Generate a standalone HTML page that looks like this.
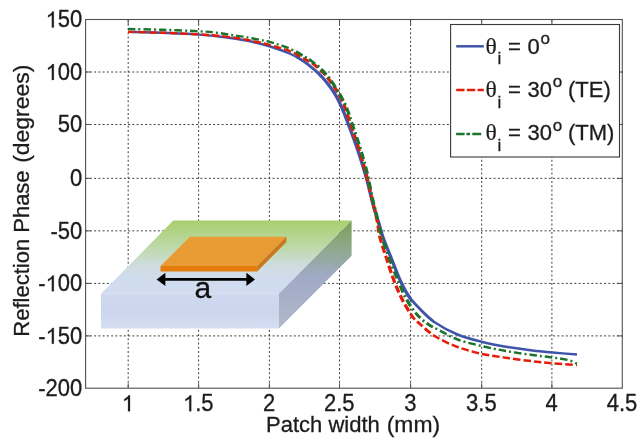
<!DOCTYPE html>
<html><head><meta charset="utf-8"><title>Reflection Phase</title>
<style>
html,body{margin:0;padding:0;background:#fff;}
body{width:640px;height:442px;overflow:hidden;}
svg{display:block;font-family:"Liberation Sans",sans-serif;will-change:transform;}
</style></head><body>
<svg width="640" height="442" viewBox="0 0 640 442">
<defs>
<linearGradient id="gtop" x1="0" y1="0" x2="0" y2="1"><stop offset="0" stop-color="#a7cf6c"/><stop offset="0.38" stop-color="#bfd9ac"/><stop offset="0.62" stop-color="#cfdde0"/><stop offset="0.8" stop-color="#d0dcee"/><stop offset="1" stop-color="#d1dcf1"/></linearGradient>
<linearGradient id="gfront" x1="0" y1="0" x2="0" y2="1"><stop offset="0" stop-color="#cfdaf0"/><stop offset="0.5" stop-color="#cbd6ee"/><stop offset="1" stop-color="#d4def2"/></linearGradient>
<linearGradient id="gside" x1="0" y1="0" x2="0" y2="1"><stop offset="0" stop-color="#78a055"/><stop offset="0.25" stop-color="#8fa88a"/><stop offset="0.52" stop-color="#a0aac6"/><stop offset="1" stop-color="#b0b8c9"/></linearGradient>
</defs>
<rect width="640" height="442" fill="#fff"/>
<g stroke="#2a2a2a" stroke-width="0.9" stroke-dasharray="2 2.25" fill="none"><line x1="128.20" y1="19.50" x2="128.20" y2="388.20"/><line x1="198.60" y1="19.50" x2="198.60" y2="388.20"/><line x1="269.40" y1="19.50" x2="269.40" y2="388.20"/><line x1="339.50" y1="19.50" x2="339.50" y2="388.20"/><line x1="410.60" y1="19.50" x2="410.60" y2="388.20"/><line x1="481.70" y1="19.50" x2="481.70" y2="388.20"/><line x1="551.90" y1="19.50" x2="551.90" y2="388.20"/><line x1="85.60" y1="72.00" x2="622.30" y2="72.00"/><line x1="85.60" y1="124.50" x2="622.30" y2="124.50"/><line x1="85.60" y1="178.35" x2="622.30" y2="178.35"/><line x1="85.60" y1="230.85" x2="622.30" y2="230.85"/><line x1="85.60" y1="283.40" x2="622.30" y2="283.40"/><line x1="85.60" y1="335.90" x2="622.30" y2="335.90"/></g>
<g stroke="#505050" stroke-width="1"><line x1="128.20" y1="388.20" x2="128.20" y2="383.20"/><line x1="128.20" y1="19.50" x2="128.20" y2="24.50"/><line x1="198.60" y1="388.20" x2="198.60" y2="383.20"/><line x1="198.60" y1="19.50" x2="198.60" y2="24.50"/><line x1="269.40" y1="388.20" x2="269.40" y2="383.20"/><line x1="269.40" y1="19.50" x2="269.40" y2="24.50"/><line x1="339.50" y1="388.20" x2="339.50" y2="383.20"/><line x1="339.50" y1="19.50" x2="339.50" y2="24.50"/><line x1="410.60" y1="388.20" x2="410.60" y2="383.20"/><line x1="410.60" y1="19.50" x2="410.60" y2="24.50"/><line x1="481.70" y1="388.20" x2="481.70" y2="383.20"/><line x1="481.70" y1="19.50" x2="481.70" y2="24.50"/><line x1="551.90" y1="388.20" x2="551.90" y2="383.20"/><line x1="551.90" y1="19.50" x2="551.90" y2="24.50"/><line x1="85.60" y1="72.00" x2="90.60" y2="72.00"/><line x1="622.30" y1="72.00" x2="617.30" y2="72.00"/><line x1="85.60" y1="124.50" x2="90.60" y2="124.50"/><line x1="622.30" y1="124.50" x2="617.30" y2="124.50"/><line x1="85.60" y1="178.35" x2="90.60" y2="178.35"/><line x1="622.30" y1="178.35" x2="617.30" y2="178.35"/><line x1="85.60" y1="230.85" x2="90.60" y2="230.85"/><line x1="622.30" y1="230.85" x2="617.30" y2="230.85"/><line x1="85.60" y1="283.40" x2="90.60" y2="283.40"/><line x1="622.30" y1="283.40" x2="617.30" y2="283.40"/><line x1="85.60" y1="335.90" x2="90.60" y2="335.90"/><line x1="622.30" y1="335.90" x2="617.30" y2="335.90"/></g>
<g id="inset">
<polygon points="101,293.8 173.3,220.6 351.6,220.6 278.8,293.8" fill="url(#gtop)"/>
<polygon points="101,293.8 278.8,293.8 278.8,328.5 101,328.5" fill="url(#gfront)"/>
<polygon points="278.8,293.8 351.6,220.6 351.6,255.7 278.8,328.5" fill="url(#gside)"/>
<polygon points="160.5,266 190,236.8 286.4,236.8 257.2,266" fill="#ea9c34"/>
<polygon points="160.5,266 257.2,266 257.2,271.4 160.5,271.4" fill="#e47c0a"/>
<polygon points="257.2,266 286.4,236.8 286.4,242.1 257.2,271.4" fill="#c8781e"/>
<line x1="163" y1="279.4" x2="248" y2="279.4" stroke="#000" stroke-width="2.8"/>
<polygon points="156.6,279.4 165.4,272.8 165.4,286" fill="#000"/>
<polygon points="255,279.4 246.4,272.8 246.4,286" fill="#000"/>
<text x="202.8" y="297.6" font-size="30" text-anchor="middle" fill="#111" stroke="#111" stroke-width="0.3">a</text>
</g>
<clipPath id="cflat"><rect x="0" y="0" width="296" height="442"/><rect x="434" y="0" width="206" height="442"/></clipPath>
<clipPath id="cmid"><rect x="296" y="0" width="22" height="442"/><rect x="412" y="0" width="22" height="442"/></clipPath>
<clipPath id="csteep"><rect x="318" y="0" width="94" height="442"/></clipPath>
<g fill="none" stroke-width="2.45" stroke-linejoin="round" clip-path="url(#cflat)"><path d="M128.00,31.90 C133.83,32.05 151.22,32.35 163.00,32.80 C174.78,33.25 188.37,33.85 198.70,34.60 C209.03,35.35 216.87,36.27 225.00,37.30 C233.13,38.33 242.08,39.83 247.50,40.80 C252.92,41.77 253.85,42.19 257.50,43.10 C261.15,44.01 263.98,44.48 269.40,46.25 C274.82,48.02 284.48,51.36 290.00,53.75 C295.52,56.14 299.27,58.62 302.50,60.60 C305.73,62.58 307.00,63.72 309.40,65.60 C311.80,67.48 314.72,69.92 316.90,71.90 C319.08,73.88 320.63,75.45 322.50,77.50 C324.37,79.55 326.33,81.95 328.10,84.20 C329.87,86.45 331.58,88.70 333.10,91.00 C334.62,93.30 335.77,95.28 337.20,98.00 C338.63,100.72 340.40,104.42 341.70,107.30 C343.00,110.18 343.87,112.42 345.00,115.30 C346.13,118.18 346.45,119.02 348.50,124.60 C350.55,130.17 354.34,139.93 357.30,148.75 C360.26,157.57 363.72,168.54 366.25,177.50 C368.78,186.46 370.46,195.08 372.50,202.50 C374.54,209.92 376.73,216.17 378.50,222.00 C380.27,227.83 381.02,231.58 383.10,237.50 C385.18,243.42 388.18,250.42 391.00,257.50 C393.82,264.58 397.04,273.54 400.00,280.00 C402.96,286.46 405.42,291.42 408.75,296.25 C412.08,301.08 415.62,304.62 420.00,309.00 C424.38,313.38 428.75,318.25 435.00,322.50 C441.25,326.75 449.58,331.25 457.50,334.50 C465.42,337.75 474.17,339.92 482.50,342.00 C490.83,344.08 499.17,345.58 507.50,347.00 C515.83,348.42 525.00,349.58 532.50,350.50 C540.00,351.42 545.08,351.83 552.50,352.50 C559.92,353.17 572.92,354.17 577.00,354.50" stroke="#3e54a8"/><path d="M128.00,31.90 C133.83,32.05 151.22,32.38 163.00,32.80 C174.78,33.22 189.20,33.87 198.70,34.40 C208.20,34.93 213.12,35.32 220.00,36.00 C226.88,36.68 234.58,37.67 240.00,38.50 C245.42,39.33 248.33,40.12 252.50,41.00 C256.67,41.88 262.18,43.08 265.00,43.75 C267.82,44.42 265.23,43.75 269.40,45.00 C273.57,46.25 284.07,48.88 290.00,51.25 C295.93,53.62 301.15,57.12 305.00,59.20 C308.85,61.28 309.98,61.43 313.10,63.75 C316.23,66.07 321.14,70.52 323.75,73.10 C326.36,75.67 326.98,76.90 328.75,79.20 C330.52,81.50 332.79,84.47 334.40,86.90 C336.01,89.33 337.05,91.37 338.40,93.80 C339.75,96.23 341.40,99.22 342.50,101.50 C343.60,103.78 343.72,103.92 345.00,107.50 C346.28,111.08 347.90,116.12 350.20,123.00 C352.50,129.88 356.10,140.08 358.80,148.75 C361.50,157.42 364.20,166.62 366.40,175.00 C368.60,183.38 370.23,191.50 372.00,199.00 C373.77,206.50 375.67,213.58 377.00,220.00 C378.33,226.42 378.46,231.25 380.00,237.50 C381.54,243.75 383.96,250.42 386.25,257.50 C388.54,264.58 391.04,272.92 393.75,280.00 C396.46,287.08 399.38,293.92 402.50,300.00 C405.62,306.08 409.58,312.50 412.50,316.50 C415.42,320.50 416.25,320.71 420.00,324.00 C423.75,327.29 428.75,332.42 435.00,336.25 C441.25,340.08 449.58,344.04 457.50,347.00 C465.42,349.96 474.17,352.17 482.50,354.00 C490.83,355.83 499.17,356.79 507.50,358.00 C515.83,359.21 525.00,360.38 532.50,361.25 C540.00,362.12 545.08,362.62 552.50,363.25 C559.92,363.88 572.92,364.71 577.00,365.00" stroke="#e41c08" stroke-dasharray="7.5 3"/><path d="M128.00,29.00 C133.83,29.13 151.22,29.43 163.00,29.80 C174.78,30.18 190.03,30.80 198.70,31.25 C207.37,31.70 209.78,31.92 215.00,32.50 C220.22,33.08 224.79,33.96 230.00,34.75 C235.21,35.54 240.62,36.27 246.25,37.25 C251.88,38.23 259.89,39.84 263.75,40.60 C267.61,41.36 265.02,40.44 269.40,41.80 C273.77,43.16 284.07,46.23 290.00,48.75 C295.93,51.27 301.46,54.89 305.00,56.90 C308.54,58.91 308.96,59.12 311.25,60.80 C313.54,62.48 316.36,64.84 318.75,67.00 C321.14,69.16 323.41,71.27 325.60,73.75 C327.79,76.23 329.92,79.09 331.90,81.90 C333.88,84.71 336.02,88.25 337.50,90.60 C338.98,92.95 339.30,93.18 340.80,96.00 C342.30,98.82 344.63,102.92 346.50,107.50 C348.37,112.08 349.68,116.62 352.00,123.50 C354.32,130.38 357.92,140.67 360.40,148.75 C362.88,156.83 364.87,163.62 366.90,172.00 C368.93,180.38 370.80,191.00 372.60,199.00 C374.40,207.00 376.13,213.58 377.70,220.00 C379.27,226.42 380.12,231.25 382.00,237.50 C383.88,243.75 386.37,250.42 389.00,257.50 C391.63,264.58 394.93,273.12 397.80,280.00 C400.68,286.88 403.18,293.12 406.25,298.75 C409.32,304.38 412.71,309.58 416.25,313.75 C419.79,317.92 423.75,321.04 427.50,323.75 C431.25,326.46 433.75,327.38 438.75,330.00 C443.75,332.62 450.21,336.79 457.50,339.50 C464.79,342.21 474.17,344.29 482.50,346.25 C490.83,348.21 499.17,349.79 507.50,351.25 C515.83,352.71 525.00,353.96 532.50,355.00 C540.00,356.04 546.58,356.67 552.50,357.50 C558.42,358.33 563.92,358.96 568.00,360.00 C572.08,361.04 575.50,363.12 577.00,363.75" stroke="#1c742c" stroke-dasharray="7.5 3 2 3"/></g>
<g fill="none" stroke-width="2.85" stroke-linejoin="round" clip-path="url(#cmid)"><path d="M128.00,31.90 C133.83,32.05 151.22,32.35 163.00,32.80 C174.78,33.25 188.37,33.85 198.70,34.60 C209.03,35.35 216.87,36.27 225.00,37.30 C233.13,38.33 242.08,39.83 247.50,40.80 C252.92,41.77 253.85,42.19 257.50,43.10 C261.15,44.01 263.98,44.48 269.40,46.25 C274.82,48.02 284.48,51.36 290.00,53.75 C295.52,56.14 299.27,58.62 302.50,60.60 C305.73,62.58 307.00,63.72 309.40,65.60 C311.80,67.48 314.72,69.92 316.90,71.90 C319.08,73.88 320.63,75.45 322.50,77.50 C324.37,79.55 326.33,81.95 328.10,84.20 C329.87,86.45 331.58,88.70 333.10,91.00 C334.62,93.30 335.77,95.28 337.20,98.00 C338.63,100.72 340.40,104.42 341.70,107.30 C343.00,110.18 343.87,112.42 345.00,115.30 C346.13,118.18 346.45,119.02 348.50,124.60 C350.55,130.17 354.34,139.93 357.30,148.75 C360.26,157.57 363.72,168.54 366.25,177.50 C368.78,186.46 370.46,195.08 372.50,202.50 C374.54,209.92 376.73,216.17 378.50,222.00 C380.27,227.83 381.02,231.58 383.10,237.50 C385.18,243.42 388.18,250.42 391.00,257.50 C393.82,264.58 397.04,273.54 400.00,280.00 C402.96,286.46 405.42,291.42 408.75,296.25 C412.08,301.08 415.62,304.62 420.00,309.00 C424.38,313.38 428.75,318.25 435.00,322.50 C441.25,326.75 449.58,331.25 457.50,334.50 C465.42,337.75 474.17,339.92 482.50,342.00 C490.83,344.08 499.17,345.58 507.50,347.00 C515.83,348.42 525.00,349.58 532.50,350.50 C540.00,351.42 545.08,351.83 552.50,352.50 C559.92,353.17 572.92,354.17 577.00,354.50" stroke="#3e54a8"/><path d="M128.00,31.90 C133.83,32.05 151.22,32.38 163.00,32.80 C174.78,33.22 189.20,33.87 198.70,34.40 C208.20,34.93 213.12,35.32 220.00,36.00 C226.88,36.68 234.58,37.67 240.00,38.50 C245.42,39.33 248.33,40.12 252.50,41.00 C256.67,41.88 262.18,43.08 265.00,43.75 C267.82,44.42 265.23,43.75 269.40,45.00 C273.57,46.25 284.07,48.88 290.00,51.25 C295.93,53.62 301.15,57.12 305.00,59.20 C308.85,61.28 309.98,61.43 313.10,63.75 C316.23,66.07 321.14,70.52 323.75,73.10 C326.36,75.67 326.98,76.90 328.75,79.20 C330.52,81.50 332.79,84.47 334.40,86.90 C336.01,89.33 337.05,91.37 338.40,93.80 C339.75,96.23 341.40,99.22 342.50,101.50 C343.60,103.78 343.72,103.92 345.00,107.50 C346.28,111.08 347.90,116.12 350.20,123.00 C352.50,129.88 356.10,140.08 358.80,148.75 C361.50,157.42 364.20,166.62 366.40,175.00 C368.60,183.38 370.23,191.50 372.00,199.00 C373.77,206.50 375.67,213.58 377.00,220.00 C378.33,226.42 378.46,231.25 380.00,237.50 C381.54,243.75 383.96,250.42 386.25,257.50 C388.54,264.58 391.04,272.92 393.75,280.00 C396.46,287.08 399.38,293.92 402.50,300.00 C405.62,306.08 409.58,312.50 412.50,316.50 C415.42,320.50 416.25,320.71 420.00,324.00 C423.75,327.29 428.75,332.42 435.00,336.25 C441.25,340.08 449.58,344.04 457.50,347.00 C465.42,349.96 474.17,352.17 482.50,354.00 C490.83,355.83 499.17,356.79 507.50,358.00 C515.83,359.21 525.00,360.38 532.50,361.25 C540.00,362.12 545.08,362.62 552.50,363.25 C559.92,363.88 572.92,364.71 577.00,365.00" stroke="#e41c08" stroke-dasharray="7.5 3"/><path d="M128.00,29.00 C133.83,29.13 151.22,29.43 163.00,29.80 C174.78,30.18 190.03,30.80 198.70,31.25 C207.37,31.70 209.78,31.92 215.00,32.50 C220.22,33.08 224.79,33.96 230.00,34.75 C235.21,35.54 240.62,36.27 246.25,37.25 C251.88,38.23 259.89,39.84 263.75,40.60 C267.61,41.36 265.02,40.44 269.40,41.80 C273.77,43.16 284.07,46.23 290.00,48.75 C295.93,51.27 301.46,54.89 305.00,56.90 C308.54,58.91 308.96,59.12 311.25,60.80 C313.54,62.48 316.36,64.84 318.75,67.00 C321.14,69.16 323.41,71.27 325.60,73.75 C327.79,76.23 329.92,79.09 331.90,81.90 C333.88,84.71 336.02,88.25 337.50,90.60 C338.98,92.95 339.30,93.18 340.80,96.00 C342.30,98.82 344.63,102.92 346.50,107.50 C348.37,112.08 349.68,116.62 352.00,123.50 C354.32,130.38 357.92,140.67 360.40,148.75 C362.88,156.83 364.87,163.62 366.90,172.00 C368.93,180.38 370.80,191.00 372.60,199.00 C374.40,207.00 376.13,213.58 377.70,220.00 C379.27,226.42 380.12,231.25 382.00,237.50 C383.88,243.75 386.37,250.42 389.00,257.50 C391.63,264.58 394.93,273.12 397.80,280.00 C400.68,286.88 403.18,293.12 406.25,298.75 C409.32,304.38 412.71,309.58 416.25,313.75 C419.79,317.92 423.75,321.04 427.50,323.75 C431.25,326.46 433.75,327.38 438.75,330.00 C443.75,332.62 450.21,336.79 457.50,339.50 C464.79,342.21 474.17,344.29 482.50,346.25 C490.83,348.21 499.17,349.79 507.50,351.25 C515.83,352.71 525.00,353.96 532.50,355.00 C540.00,356.04 546.58,356.67 552.50,357.50 C558.42,358.33 563.92,358.96 568.00,360.00 C572.08,361.04 575.50,363.12 577.00,363.75" stroke="#1c742c" stroke-dasharray="7.5 3 2 3"/></g>
<g fill="none" stroke-width="3.25" stroke-linejoin="round" clip-path="url(#csteep)"><path d="M128.00,31.90 C133.83,32.05 151.22,32.35 163.00,32.80 C174.78,33.25 188.37,33.85 198.70,34.60 C209.03,35.35 216.87,36.27 225.00,37.30 C233.13,38.33 242.08,39.83 247.50,40.80 C252.92,41.77 253.85,42.19 257.50,43.10 C261.15,44.01 263.98,44.48 269.40,46.25 C274.82,48.02 284.48,51.36 290.00,53.75 C295.52,56.14 299.27,58.62 302.50,60.60 C305.73,62.58 307.00,63.72 309.40,65.60 C311.80,67.48 314.72,69.92 316.90,71.90 C319.08,73.88 320.63,75.45 322.50,77.50 C324.37,79.55 326.33,81.95 328.10,84.20 C329.87,86.45 331.58,88.70 333.10,91.00 C334.62,93.30 335.77,95.28 337.20,98.00 C338.63,100.72 340.40,104.42 341.70,107.30 C343.00,110.18 343.87,112.42 345.00,115.30 C346.13,118.18 346.45,119.02 348.50,124.60 C350.55,130.17 354.34,139.93 357.30,148.75 C360.26,157.57 363.72,168.54 366.25,177.50 C368.78,186.46 370.46,195.08 372.50,202.50 C374.54,209.92 376.73,216.17 378.50,222.00 C380.27,227.83 381.02,231.58 383.10,237.50 C385.18,243.42 388.18,250.42 391.00,257.50 C393.82,264.58 397.04,273.54 400.00,280.00 C402.96,286.46 405.42,291.42 408.75,296.25 C412.08,301.08 415.62,304.62 420.00,309.00 C424.38,313.38 428.75,318.25 435.00,322.50 C441.25,326.75 449.58,331.25 457.50,334.50 C465.42,337.75 474.17,339.92 482.50,342.00 C490.83,344.08 499.17,345.58 507.50,347.00 C515.83,348.42 525.00,349.58 532.50,350.50 C540.00,351.42 545.08,351.83 552.50,352.50 C559.92,353.17 572.92,354.17 577.00,354.50" stroke="#3e54a8"/><path d="M128.00,31.90 C133.83,32.05 151.22,32.38 163.00,32.80 C174.78,33.22 189.20,33.87 198.70,34.40 C208.20,34.93 213.12,35.32 220.00,36.00 C226.88,36.68 234.58,37.67 240.00,38.50 C245.42,39.33 248.33,40.12 252.50,41.00 C256.67,41.88 262.18,43.08 265.00,43.75 C267.82,44.42 265.23,43.75 269.40,45.00 C273.57,46.25 284.07,48.88 290.00,51.25 C295.93,53.62 301.15,57.12 305.00,59.20 C308.85,61.28 309.98,61.43 313.10,63.75 C316.23,66.07 321.14,70.52 323.75,73.10 C326.36,75.67 326.98,76.90 328.75,79.20 C330.52,81.50 332.79,84.47 334.40,86.90 C336.01,89.33 337.05,91.37 338.40,93.80 C339.75,96.23 341.40,99.22 342.50,101.50 C343.60,103.78 343.72,103.92 345.00,107.50 C346.28,111.08 347.90,116.12 350.20,123.00 C352.50,129.88 356.10,140.08 358.80,148.75 C361.50,157.42 364.20,166.62 366.40,175.00 C368.60,183.38 370.23,191.50 372.00,199.00 C373.77,206.50 375.67,213.58 377.00,220.00 C378.33,226.42 378.46,231.25 380.00,237.50 C381.54,243.75 383.96,250.42 386.25,257.50 C388.54,264.58 391.04,272.92 393.75,280.00 C396.46,287.08 399.38,293.92 402.50,300.00 C405.62,306.08 409.58,312.50 412.50,316.50 C415.42,320.50 416.25,320.71 420.00,324.00 C423.75,327.29 428.75,332.42 435.00,336.25 C441.25,340.08 449.58,344.04 457.50,347.00 C465.42,349.96 474.17,352.17 482.50,354.00 C490.83,355.83 499.17,356.79 507.50,358.00 C515.83,359.21 525.00,360.38 532.50,361.25 C540.00,362.12 545.08,362.62 552.50,363.25 C559.92,363.88 572.92,364.71 577.00,365.00" stroke="#e41c08" stroke-dasharray="7.5 3"/><path d="M128.00,29.00 C133.83,29.13 151.22,29.43 163.00,29.80 C174.78,30.18 190.03,30.80 198.70,31.25 C207.37,31.70 209.78,31.92 215.00,32.50 C220.22,33.08 224.79,33.96 230.00,34.75 C235.21,35.54 240.62,36.27 246.25,37.25 C251.88,38.23 259.89,39.84 263.75,40.60 C267.61,41.36 265.02,40.44 269.40,41.80 C273.77,43.16 284.07,46.23 290.00,48.75 C295.93,51.27 301.46,54.89 305.00,56.90 C308.54,58.91 308.96,59.12 311.25,60.80 C313.54,62.48 316.36,64.84 318.75,67.00 C321.14,69.16 323.41,71.27 325.60,73.75 C327.79,76.23 329.92,79.09 331.90,81.90 C333.88,84.71 336.02,88.25 337.50,90.60 C338.98,92.95 339.30,93.18 340.80,96.00 C342.30,98.82 344.63,102.92 346.50,107.50 C348.37,112.08 349.68,116.62 352.00,123.50 C354.32,130.38 357.92,140.67 360.40,148.75 C362.88,156.83 364.87,163.62 366.90,172.00 C368.93,180.38 370.80,191.00 372.60,199.00 C374.40,207.00 376.13,213.58 377.70,220.00 C379.27,226.42 380.12,231.25 382.00,237.50 C383.88,243.75 386.37,250.42 389.00,257.50 C391.63,264.58 394.93,273.12 397.80,280.00 C400.68,286.88 403.18,293.12 406.25,298.75 C409.32,304.38 412.71,309.58 416.25,313.75 C419.79,317.92 423.75,321.04 427.50,323.75 C431.25,326.46 433.75,327.38 438.75,330.00 C443.75,332.62 450.21,336.79 457.50,339.50 C464.79,342.21 474.17,344.29 482.50,346.25 C490.83,348.21 499.17,349.79 507.50,351.25 C515.83,352.71 525.00,353.96 532.50,355.00 C540.00,356.04 546.58,356.67 552.50,357.50 C558.42,358.33 563.92,358.96 568.00,360.00 C572.08,361.04 575.50,363.12 577.00,363.75" stroke="#1c742c" stroke-dasharray="7.5 3 2 3"/></g>
<rect x="85.60" y="19.50" width="536.70" height="368.70" fill="none" stroke="#505050" stroke-width="1.1"/>
<g font-size="22" fill="#1c1c1c" stroke="#1c1c1c" stroke-width="0.3">
<path d="M129.99,411.20 L128.05,411.20 L128.05,398.76 Q126.18,400.31 124.18,401.09 L124.18,399.20 Q127.50,397.65 128.74,395.29 L129.99,395.29 Z" stroke-width="0.25"/>
<path d="M191.22,411.20 L189.28,411.20 L189.28,398.76 Q187.41,400.31 185.41,401.09 L185.41,399.20 Q188.73,397.65 189.96,395.29 L191.22,395.29 Z" stroke-width="0.25"/><text transform="translate(195.24,411.20) scale(1,1.055)">.</text><text transform="translate(201.36,411.20) scale(1,1.055)">5</text>
<text transform="translate(262.98,411.20) scale(1,1.055)">2</text>
<text transform="translate(323.91,411.20) scale(1,1.055)">2</text><text transform="translate(336.14,411.20) scale(1,1.055)">.</text><text transform="translate(342.26,411.20) scale(1,1.055)">5</text>
<text transform="translate(404.18,411.20) scale(1,1.055)">3</text>
<text transform="translate(466.11,411.20) scale(1,1.055)">3</text><text transform="translate(478.34,411.20) scale(1,1.055)">.</text><text transform="translate(484.46,411.20) scale(1,1.055)">5</text>
<text transform="translate(545.48,411.20) scale(1,1.055)">4</text>
<text transform="translate(606.71,411.20) scale(1,1.055)">4</text><text transform="translate(618.94,411.20) scale(1,1.055)">.</text><text transform="translate(625.06,411.20) scale(1,1.055)">5</text>
<path d="M53.81,27.40 L51.87,27.40 L51.87,14.96 Q50.00,16.51 48.00,17.29 L48.00,15.40 Q51.32,13.85 52.56,11.49 L53.81,11.49 Z" stroke-width="0.25"/><text transform="translate(57.84,27.40) scale(1,1.055)">5</text><text transform="translate(70.07,27.40) scale(1,1.055)">0</text>
<path d="M53.81,79.90 L51.87,79.90 L51.87,67.46 Q50.00,69.01 48.00,69.79 L48.00,67.90 Q51.32,66.35 52.56,63.99 L53.81,63.99 Z" stroke-width="0.25"/><text transform="translate(57.84,79.90) scale(1,1.055)">0</text><text transform="translate(70.07,79.90) scale(1,1.055)">0</text>
<text transform="translate(57.84,132.40) scale(1,1.055)">5</text><text transform="translate(70.07,132.40) scale(1,1.055)">0</text>
<text transform="translate(70.07,186.25) scale(1,1.055)">0</text>
<text transform="translate(50.51,238.75) scale(1,1.055)">-</text><text transform="translate(57.84,238.75) scale(1,1.055)">5</text><text transform="translate(70.07,238.75) scale(1,1.055)">0</text>
<text transform="translate(38.28,291.30) scale(1,1.055)">-</text><path d="M53.81,291.30 L51.87,291.30 L51.87,278.86 Q50.00,280.41 48.00,281.19 L48.00,279.30 Q51.32,277.75 52.56,275.39 L53.81,275.39 Z" stroke-width="0.25"/><text transform="translate(57.84,291.30) scale(1,1.055)">0</text><text transform="translate(70.07,291.30) scale(1,1.055)">0</text>
<text transform="translate(38.28,343.80) scale(1,1.055)">-</text><path d="M53.81,343.80 L51.87,343.80 L51.87,331.36 Q50.00,332.91 48.00,333.69 L48.00,331.80 Q51.32,330.25 52.56,327.89 L53.81,327.89 Z" stroke-width="0.25"/><text transform="translate(57.84,343.80) scale(1,1.055)">5</text><text transform="translate(70.07,343.80) scale(1,1.055)">0</text>
<text transform="translate(38.28,396.10) scale(1,1.055)">-</text><text transform="translate(45.60,396.10) scale(1,1.055)">2</text><text transform="translate(57.84,396.10) scale(1,1.055)">0</text><text transform="translate(70.07,396.10) scale(1,1.055)">0</text>
<text transform="translate(266.1,432.4) scale(1,1.03)">Patch width</text>
<text transform="translate(386.7,432.4) scale(1,1.03)" textLength="53.4" lengthAdjust="spacingAndGlyphs">(mm)</text>
<text transform="translate(28.5,336.7) rotate(-90) scale(1,1.02)">Reflection Phase</text>
<text transform="translate(28.5,162.8) rotate(-90) scale(1,1.02)" textLength="98.2" lengthAdjust="spacingAndGlyphs">(degrees)</text>
</g>
<rect x="450.6" y="24.5" width="168.9" height="132.5" fill="#fff" stroke="#3a3a3a" stroke-width="1.1"/>
<g fill="none" stroke-width="2.5">
<line x1="456.2" y1="46.3" x2="483.8" y2="46.3" stroke="#3e54a8"/>
<line x1="456.2" y1="90.1" x2="483.8" y2="90.1" stroke="#e41c08" stroke-dasharray="8.3 2.4"/>
<line x1="456.1" y1="133.9" x2="481.2" y2="133.9" stroke="#1c742c" stroke-dasharray="8.5 1.8 3.6 2.3 8.9 10"/>
</g>
<text y="53.50" font-size="22" fill="#1c1c1c" stroke="#1c1c1c" stroke-width="0.3"><tspan x="485.6" font-family="Liberation Serif" font-size="23.5" stroke-width="0.2">θ</tspan><tspan x="497.5" dy="10.7" font-size="17">i</tspan><tspan x="502" dy="-10.7" font-size="22"> = </tspan><tspan dx="0.5">0</tspan><tspan dx="0.6" dy="-9.8" font-size="17">o</tspan></text>
<text y="97.00" font-size="22" fill="#1c1c1c" stroke="#1c1c1c" stroke-width="0.3"><tspan x="485.6" font-family="Liberation Serif" font-size="23.5" stroke-width="0.2">θ</tspan><tspan x="497.5" dy="10.7" font-size="17">i</tspan><tspan x="502" dy="-10.7" font-size="22"> = </tspan><tspan dx="0.5">30</tspan><tspan dx="0.6" dy="-9.8" font-size="17">o</tspan><tspan dx="-0.3" dy="9.8" font-size="22"> (TE)</tspan></text>
<text y="140.30" font-size="22" fill="#1c1c1c" stroke="#1c1c1c" stroke-width="0.3"><tspan x="485.6" font-family="Liberation Serif" font-size="23.5" stroke-width="0.2">θ</tspan><tspan x="497.5" dy="10.7" font-size="17">i</tspan><tspan x="502" dy="-10.7" font-size="22"> = </tspan><tspan dx="0.5">30</tspan><tspan dx="0.6" dy="-9.8" font-size="17">o</tspan><tspan dx="-0.3" dy="9.8" font-size="22"> (TM)</tspan></text>
</svg>
</body></html>
